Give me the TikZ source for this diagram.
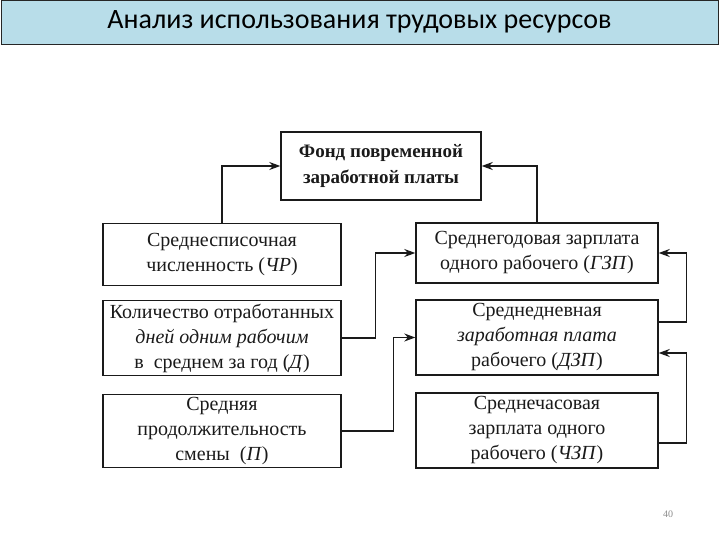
\documentclass[tikz,border=0pt]{standalone}
\usepackage{fontspec}
\setmainfont{Liberation Serif}
\newfontfamily\titlefont{Carlito}
\usetikzlibrary{arrows.meta}
\definecolor{titlebg}{HTML}{B8DDE9}
\definecolor{ink}{HTML}{1A1A1A}
\tikzset{
  box/.style={draw=ink, line width=1.4pt, align=center, text=ink, inner sep=0pt,
    font=\fontsize{20}{25}\selectfont},
  conn/.style={draw=ink, line width=1.3pt, -{Stealth[length=11pt,width=8pt]}},
}
\begin{document}
\begin{tikzpicture}[x=1pt,y=-1pt]
\useasboundingbox (0,0) rectangle (720,540);
\node[draw=black!85, line width=0.8pt, fill=titlebg, minimum width=717pt, minimum height=44pt, inner sep=0pt,
  font=\titlefont\fontsize{28}{30}\selectfont] (title) at (359.5,22) {Анализ использования трудовых ресурсов};

\node[box, minimum width=200pt, minimum height=68pt, font=\bfseries\fontsize{19}{26}\selectfont] (top) at (381,166)
  {Фонд повременной\\заработной платы};

\node[box, minimum width=238pt, minimum height=62pt] (L1) at (222,254.5)
  {Среднесписочная\\численность (\textit{ЧР})};
\node[box, minimum width=238pt, minimum height=75pt] (L2) at (222,338)
  {Количество отработанных\\\textit{дней одним рабочим}\\в\ \ среднем за год (\textit{Д})};
\node[box, minimum width=238pt, minimum height=73pt] (L3) at (222,431)
  {Средняя\\продолжительность\\смены\ \ (\textit{П})};

\node[box, minimum width=242pt, minimum height=60pt] (R1) at (537,253)
  {Среднегодовая зарплата\\одного рабочего (\textit{ГЗП})};
\node[box, minimum width=242pt, minimum height=75pt] (R2) at (537,337.5)
  {Среднедневная\\\textit{заработная плата}\\рабочего (\textit{ДЗП})};
\node[box, minimum width=242pt, minimum height=75pt] (R3) at (537,430.5)
  {Среднечасовая\\зарплата одного\\рабочего (\textit{ЧЗП})};

\draw[conn] (L1.north) |- (top.west);
\draw[conn] (R1.north) |- (top.east);
\draw[conn] (L2.east) -- ++(34,0) |- (R1.west);
\draw[conn] (L3.east) -- ++(52,0) |- (R2.west);
\draw[conn] ([yshift=-12.5pt]R3.east) -- ++(28,0) |- ([yshift=-15.5pt]R2.east);
\draw[conn] ([yshift=15.5pt]R2.east) -- ++(28,0) |- (R1.east);

\node[text=black!45, font=\fontsize{10}{11}\selectfont] (pg) at (668,514) {40};
\end{tikzpicture}
\end{document}
